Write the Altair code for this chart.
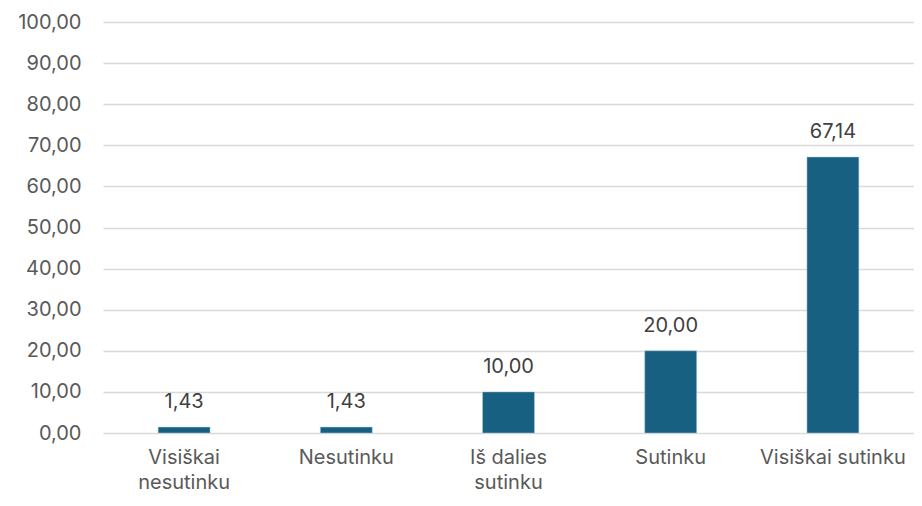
import altair as alt
import pandas as pd

categories = ["Visiškai nesutinku", "Nesutinku", "Iš dalies sutinku", "Sutinku", "Visiškai sutinku"]
values = [1.43, 1.43, 10.00, 20.00, 67.14]
y_ticks = [0, 10, 20, 30, 40, 50, 60, 70, 80, 90, 100]

df = pd.DataFrame({"cat": categories, "val": values})

FONT = "Inter"
TXT = "#595959"
BAR = "#176082"
FS = 20

label_expr = (
    "datum.value == 'Visiškai nesutinku' ? ['Visiškai', 'nesutinku'] : "
    "datum.value == 'Iš dalies sutinku' ? ['Iš dalies', 'sutinku'] : datum.value"
)

x = alt.X(
    "cat:N",
    sort=categories,
    title=None,
    scale=alt.Scale(paddingInner=0.68, paddingOuter=0.34),
    axis=alt.Axis(
        labelAngle=0,
        labelExpr=label_expr,
        labelPadding=14,
        labelLineHeight=25,
        labelBaseline="top",
    ),
)

y = alt.Y(
    "val:Q",
    title=None,
    scale=alt.Scale(domain=[0, 100], nice=False),
    axis=alt.Axis(
        values=y_ticks,
        labelExpr="replace(format(datum.value, '.2f'), '.', ',')",
        labelPadding=22,
    ),
)

bars = alt.Chart(df).mark_bar(color=BAR, stroke="#a9c8d8", strokeWidth=0.5).encode(x=x, y=y)

texts = alt.Chart(df).transform_calculate(
    lab="replace(format(datum.val, '.2f'), '.', ',')"
).mark_text(
    font=FONT, fontSize=FS, color="#404040", baseline="alphabetic", align="center", dy=-19
).encode(x=x, y=y, text="lab:N")

chart = (
    alt.layer(bars, texts)
    .properties(
        width=811,
        height=411,
        background="white",
        autosize=alt.AutoSizeParams(type="none"),
        padding={"left": 95, "top": 14, "right": 0, "bottom": 60},
    )
    .configure_view(strokeWidth=0, stroke="transparent")
    .configure_axis(
        domain=False,
        ticks=False,
        labelFont=FONT,
        labelFontSize=FS,
        labelColor=TXT,
        gridColor="#d9d9d9",
        gridWidth=1.5,
    )
    .configure_axisX(grid=False)
)

chart.save("out.html", embed_options={"renderer": "svg", "actions": False})
